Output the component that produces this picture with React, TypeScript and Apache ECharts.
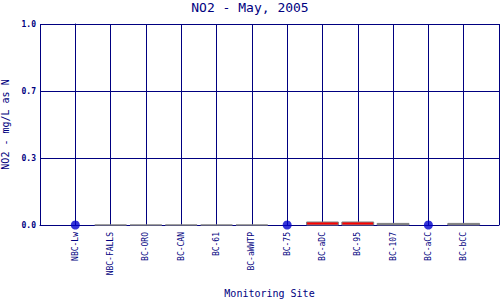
import React, { useEffect, useRef } from "react";
import * as echarts from "echarts";

const sites = ["NBC-Lw", "NBC-FALLS", "BC-ORO", "BC-CAN", "BC-61", "BC-aWWTP", "BC-75", "BC-aDC", "BC-95", "BC-107", "BC-aCC", "BC-bCC"];
// range boxes: [siteIndex, low, high]
const boxLow = [null, 0, 0, 0, 0, 0, null, 0, 0, 0, null, 0];
const boxHigh = [null, 0, 0, 0, 0, 0, null, 0.015, 0.015, 0.008, null, 0.008];
const flaggedSites = ["BC-aDC", "BC-95"];
// single measurements
const pointValues = [0, null, null, null, null, null, 0, null, null, null, 0, null];
const yTicks = [0, 1 / 3, 2 / 3, 1];

const NAVY = "#000080";
const FONT = "DejaVu Sans Mono";

export default function App() {
  const ref = useRef<HTMLDivElement>(null);
  useEffect(() => {
    document.body.style.margin = "0";
    const chart = echarts.init(ref.current!, null, { renderer: "svg" });
    const boxData: any[] = [];
    sites.forEach((s, i) => {
      if (boxHigh[i] !== null) boxData.push([i, boxLow[i], boxHigh[i], flaggedSites.includes(s) ? 1 : 0]);
    });
    const pts: any[] = [];
    pointValues.forEach((v, i) => {
      if (v !== null) pts.push([i, v]);
    });
    chart.setOption({
      animation: false,
      backgroundColor: "#ffffff",
      title: {
        text: "NO2 - May, 2005",
        left: "center",
        top: 1,
        padding: 0,
        textStyle: { fontFamily: FONT, fontSize: 13, fontWeight: "normal", color: NAVY },
      },
      grid: { left: 40, right: 1, top: 24, bottom: 75, containLabel: false, outerBoundsMode: "none" },
      xAxis: {
        type: "value",
        min: -1,
        max: 12,
        interval: 1,
        name: "Monitoring Site",
        nameLocation: "middle",
        nameGap: 63,
        nameTextStyle: { fontFamily: FONT, fontSize: 10, color: NAVY },
        axisLine: { show: true, lineStyle: { color: NAVY, width: 1 } },
        axisTick: { show: false },
        splitLine: { show: true, lineStyle: { color: NAVY, width: 1 } },
        axisLabel: {
          rotate: 90,
          margin: 7,
          fontFamily: FONT,
          fontSize: 8,
          color: NAVY,
          showMinLabel: false,
          showMaxLabel: false,
          formatter: (v: number) => (v >= 0 && v < sites.length ? sites[v] : ""),
        },
      },
      yAxis: {
        type: "value",
        min: 0,
        max: 1,
        interval: 1 / 3,
        name: "NO2 - mg/L as N",
        nameLocation: "middle",
        nameGap: 28,
        nameTextStyle: { fontFamily: FONT, fontSize: 10, color: NAVY },
        axisLine: { show: true, lineStyle: { color: NAVY, width: 1 } },
        axisTick: { show: false },
        splitLine: { show: true, lineStyle: { color: NAVY, width: 1 } },
        axisLabel: {
          margin: 4,
          fontFamily: FONT,
          fontSize: 8,
          fontWeight: "bold",
          color: NAVY,
          formatter: (v: number) => {
            const t = yTicks.find((y) => Math.abs(y - v) < 1e-6);
            return (t !== undefined ? t : v).toFixed(1);
          },
        },
      },
      series: [
        {
          type: "custom",
          z: 5,
          data: boxData,
          renderItem: (params: any, api: any) => {
            const i = api.value(0);
            const lo = api.value(1);
            const hi = api.value(2);
            const flag = api.value(3);
            const p1 = api.coord([i - 0.45, hi]);
            const p2 = api.coord([i + 0.45, lo]);
            const h = Math.max(p2[1] - p1[1], 0);
            return {
              type: "rect",
              shape: { x: p1[0], y: p1[1], width: p2[0] - p1[0], height: h },
              style: { fill: flag ? "#ff0000" : "#808080", stroke: "#808080", lineWidth: 1 },
            };
          },
        },
        {
          type: "scatter",
          z: 6,
          data: pts,
          symbol: "circle",
          symbolSize: 9,
          itemStyle: { color: "#0000cc" },
        },
      ],
    });
    return () => chart.dispose();
  }, []);
  return <div ref={ref} style={{ position: "fixed", left: 0, top: 0, width: 500, height: 300 }} />;
}
